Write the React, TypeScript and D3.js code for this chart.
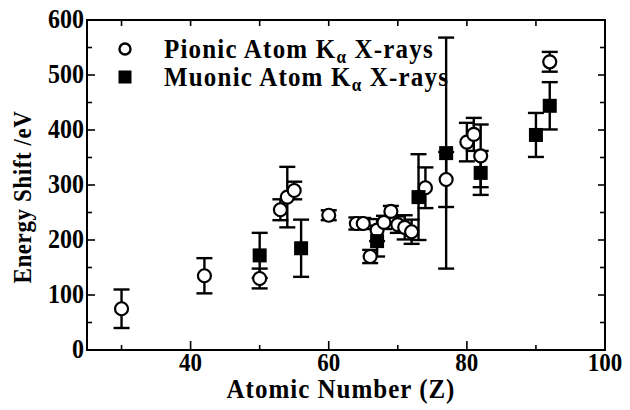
import React, { useEffect, useRef } from 'react';
import * as d3 from 'd3';

// pionic atom K-alpha shifts
const pionZ = [30, 42, 50, 53, 54, 55, 60, 64, 65, 66, 67, 68, 69, 70, 71, 72, 74, 77, 80, 81, 82, 92];
const pionShift = [75, 135, 130, 255, 278, 290, 245, 230, 230, 170, 218, 232, 252, 228, 223, 215, 295, 310, 378, 392, 353, 524];
const pionErr = [35, 32, 18, 19, 55, 16, 9, 11, 10, 12, 20, 12, 10, 15, 22, 22, 37, 50, 35, 30, 57, 18];

// muonic atom K-alpha shifts
const muonZ = [50, 56, 67, 73, 77, 82, 90, 92];
const muonShift = [172, 185, 198, 278, 358, 322, 391, 444];
const muonErr = [41, 52, 28, 78, 210, 40, 40, 43];

const xTicks = [40, 60, 80, 100];
const yTicks = [0, 100, 200, 300, 400, 500, 600];

const FONT = "'Times New Roman', 'Liberation Serif', Tinos, serif";

export default function App() {
  const ref = useRef<SVGSVGElement>(null);

  useEffect(() => {
    const width = 630;
    const height = 410;
    const margin = { top: 20, right: 25, bottom: 60, left: 87 };
    const svg = d3.select(ref.current);
    svg.selectAll('*').remove();

    const x = d3.scaleLinear().domain([25, 100]).range([margin.left, width - margin.right]);
    const y = d3.scaleLinear().domain([0, 600]).range([height - margin.bottom, margin.top]);

    const pion = pionZ.map((z, i) => ({ z, v: pionShift[i], e: pionErr[i] }));
    const muon = muonZ.map((z, i) => ({ z, v: muonShift[i], e: muonErr[i] }));

    const x0 = x.range()[0], x1 = x.range()[1];
    const y0 = y.range()[0], y1 = y.range()[1];

    // frame
    svg.append('rect')
      .attr('x', x0).attr('y', y1)
      .attr('width', x1 - x0).attr('height', y0 - y1)
      .attr('fill', 'none').attr('stroke', '#000').attr('stroke-width', 2);

    const g = svg.append('g').attr('stroke', '#000').attr('stroke-width', 1.6);
    // x ticks, inward, bottom and top
    d3.range(30, 100, 10).forEach(v => {
      const major = v % 20 === 0;
      g.append('line').attr('x1', x(v)).attr('x2', x(v)).attr('y1', y0).attr('y2', y0 - (major ? 9 : 5));
      g.append('line').attr('x1', x(v)).attr('x2', x(v)).attr('y1', y1).attr('y2', y1 + 6);
    });
    // y ticks, inward, left and right
    d3.range(50, 600, 50).forEach(v => {
      const major = v % 100 === 0;
      g.append('line').attr('y1', y(v)).attr('y2', y(v)).attr('x1', x0).attr('x2', x0 + (major ? 8 : 5));
      g.append('line').attr('y1', y(v)).attr('y2', y(v)).attr('x1', x1).attr('x2', x1 - (major ? 7 : 5));
    });

    const stretch = (sel: any, cx: number, cy: number, k: number) =>
      sel.attr('transform', `translate(${cx},${cy}) scale(1,${k}) translate(${-cx},${-cy})`);

    // tick labels
    svg.append('g').selectAll('text').data(xTicks).enter().append('text')
      .attr('x', d => x(d)).attr('y', y0 + 21)
      .attr('text-anchor', 'middle')
      .attr('font-family', FONT).attr('font-weight', 'bold').attr('font-size', 23)
      .each(function (d) { stretch(d3.select(this), x(d), y0 + 21, 1.12); })
      .text(d => d);
    svg.append('g').selectAll('text').data(yTicks).enter().append('text')
      .attr('x', x0 - 3).attr('y', d => y(d) + 8)
      .attr('text-anchor', 'end')
      .attr('font-family', FONT).attr('font-weight', 'bold').attr('font-size', 24)
      .each(function (d) { stretch(d3.select(this), x0, y(d) + 8, 1.12); })
      .text(d => d);

    // axis titles
    const xt = svg.append('text')
      .attr('x', (x0 + x1) / 2 - 5).attr('y', 398)
      .attr('text-anchor', 'middle')
      .attr('font-family', FONT).attr('font-weight', 'bold').attr('font-size', 25)
      .attr('letter-spacing', 1)
      .text('Atomic Number (Z)');
    stretch(xt, (x0 + x1) / 2, 398, 1.06);
    svg.append('text')
      .attr('transform', `translate(31, ${(y0 + y1) / 2 + 12}) rotate(-90) scale(1,1.1)`)
      .attr('text-anchor', 'middle')
      .attr('font-family', FONT).attr('font-weight', 'bold').attr('font-size', 23)
      .attr('letter-spacing', 0.6)
      .text('Energy Shift /eV');

    const cap = 8;
    const drawErr = (data: { z: number; v: number; e: number }[]) => {
      const eg = svg.append('g').attr('stroke', '#000').attr('stroke-width', 2.4);
      data.forEach(d => {
        eg.append('line').attr('x1', x(d.z)).attr('x2', x(d.z)).attr('y1', y(d.v - d.e)).attr('y2', y(d.v + d.e));
        eg.append('line').attr('x1', x(d.z) - cap).attr('x2', x(d.z) + cap).attr('y1', y(d.v - d.e)).attr('y2', y(d.v - d.e));
        eg.append('line').attr('x1', x(d.z) - cap).attr('x2', x(d.z) + cap).attr('y1', y(d.v + d.e)).attr('y2', y(d.v + d.e));
      });
    };

    drawErr(pion);
    drawErr(muon);

    svg.append('g').selectAll('circle').data(pion).enter().append('circle')
      .attr('cx', d => x(d.z)).attr('cy', d => y(d.v)).attr('r', 6.5)
      .attr('fill', '#fff').attr('stroke', '#000').attr('stroke-width', 2.2);

    const s = 14;
    svg.append('g').selectAll('rect').data(muon).enter().append('rect')
      .attr('x', d => x(d.z) - s / 2).attr('y', d => y(d.v) - s / 2)
      .attr('width', s).attr('height', s).attr('fill', '#000');

    // legend
    const leg = svg.append('g');
    leg.append('circle').attr('cx', 125).attr('cy', 49).attr('r', 5.5)
      .attr('fill', '#fff').attr('stroke', '#000').attr('stroke-width', 2.4);
    leg.append('rect').attr('x', 125 - 6.5).attr('y', 77 - 6.5).attr('width', 13).attr('height', 13).attr('fill', '#000');
    const labels = ['Pionic Atom K', 'Muonic Atom K'];
    labels.forEach((t, i) => {
      const by = 58 + i * 28;
      const txt = leg.append('text')
        .attr('x', 164).attr('y', by)
        .attr('font-family', FONT).attr('font-weight', 'bold').attr('font-size', 25)
        .attr('letter-spacing', 1.2)
        .attr('fill', '#000');
      stretch(txt, 164, by, 1.08);
      txt.append('tspan').text(t);
      txt.append('tspan').attr('dy', 5).attr('font-size', 17).text('\u03b1');
      txt.append('tspan').attr('dy', -5).text(' X-rays');
    });
  }, []);

  return (
    <svg ref={ref} width={630} height={410} style={{ position: 'absolute', left: 0, top: 0, background: '#fff' }} />
  );
}
